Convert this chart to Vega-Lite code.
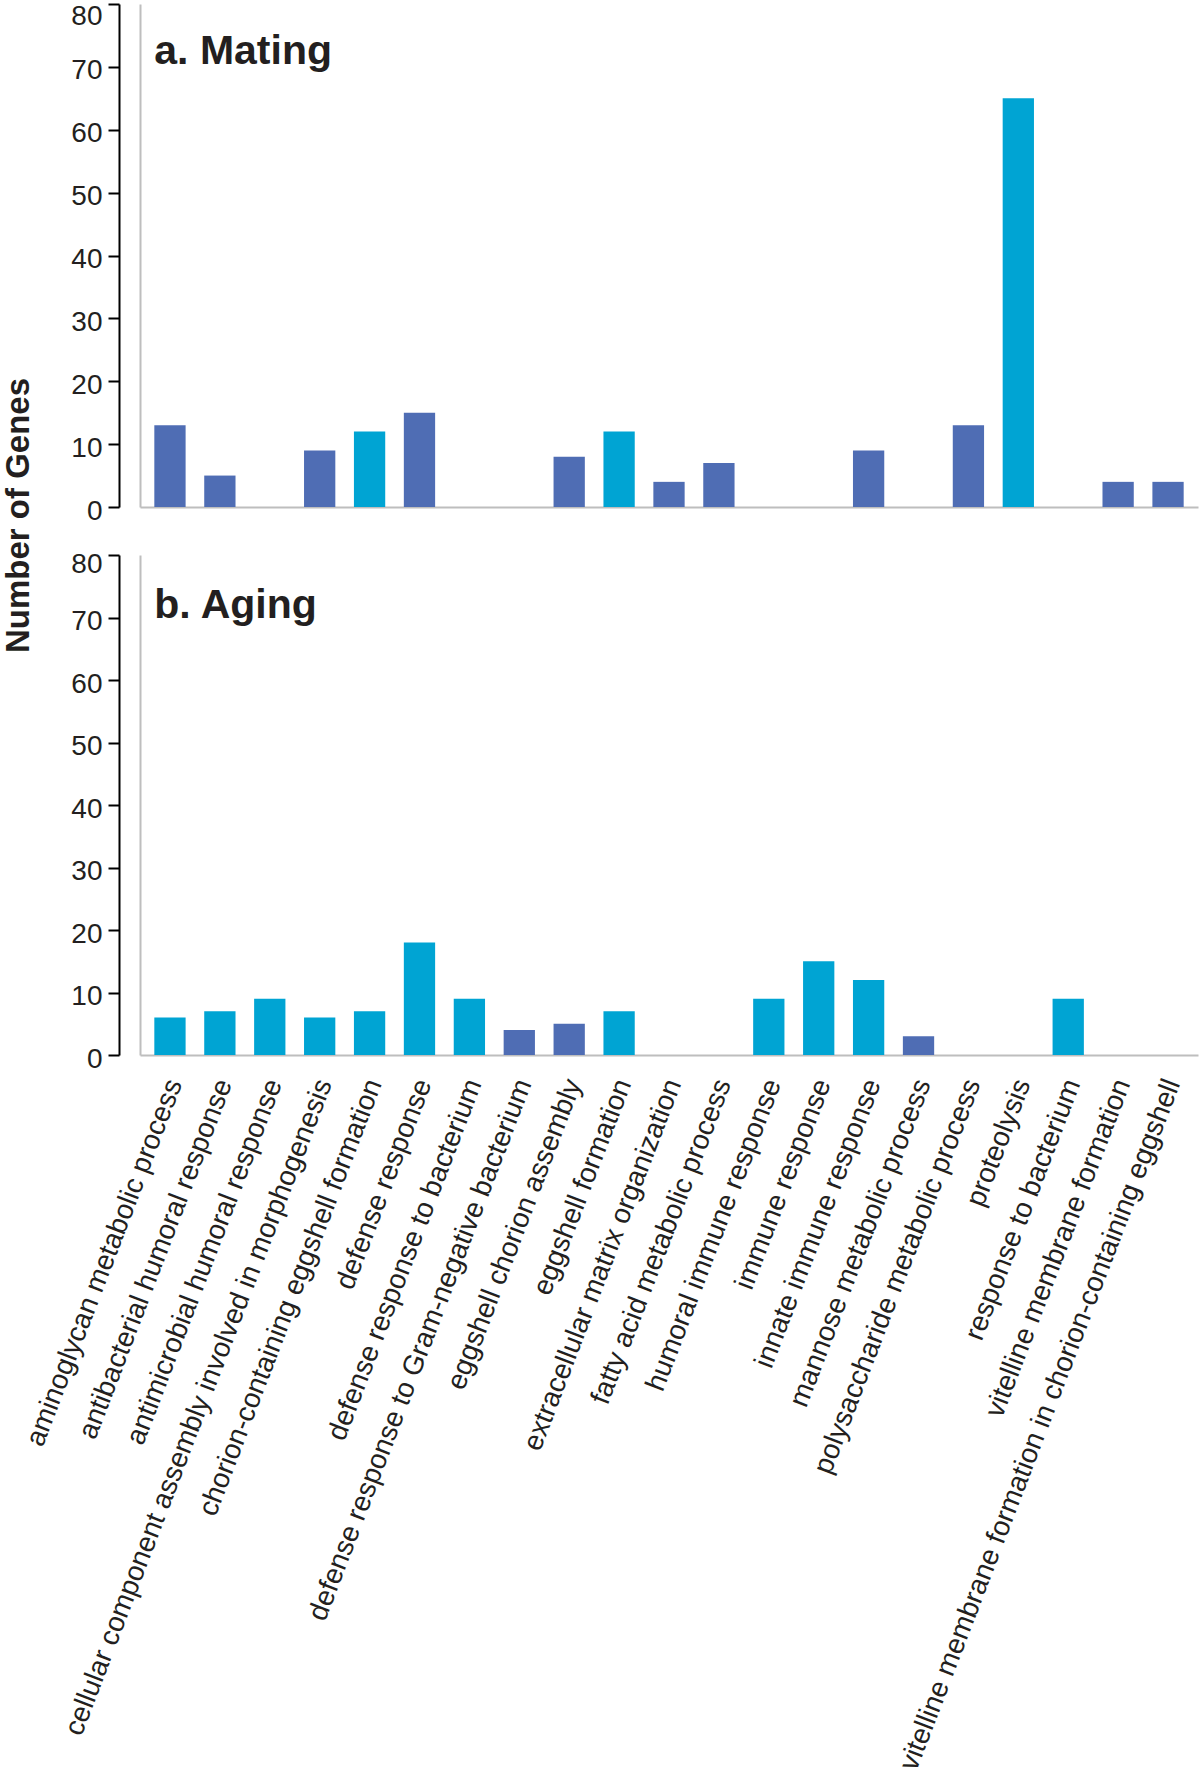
{
  "$schema": "https://vega.github.io/schema/vega-lite/v6.json",
  "background": "white",
  "padding": {"left": 2, "top": 2, "right": 2, "bottom": 0},
  "config": {"view": {"stroke": null}, "font": "Liberation Sans", "axis": {"grid": false}},
  "bounds": "flush",
  "spacing": 48,
  "datasets": {
    "mating": [
      {"category": "aminoglycan metabolic process", "genes": 13, "shade": "dark"},
      {"category": "antibacterial humoral response", "genes": 5, "shade": "dark"},
      {"category": "cellular component assembly involved in morphogenesis", "genes": 9, "shade": "dark"},
      {"category": "chorion-containing eggshell formation", "genes": 12, "shade": "light"},
      {"category": "defense response", "genes": 15, "shade": "dark"},
      {"category": "eggshell chorion assembly", "genes": 8, "shade": "dark"},
      {"category": "eggshell formation", "genes": 12, "shade": "light"},
      {"category": "extracellular matrix organization", "genes": 4, "shade": "dark"},
      {"category": "fatty acid metabolic process", "genes": 7, "shade": "dark"},
      {"category": "innate immune response", "genes": 9, "shade": "dark"},
      {"category": "polysaccharide metabolic process", "genes": 13, "shade": "dark"},
      {"category": "proteolysis", "genes": 65, "shade": "light"},
      {"category": "vitelline membrane formation", "genes": 4, "shade": "dark"},
      {"category": "vitelline membrane formation in chorion-containing eggshell", "genes": 4, "shade": "dark"}
    ],
    "aging": [
      {"category": "aminoglycan metabolic process", "genes": 6, "shade": "light"},
      {"category": "antibacterial humoral response", "genes": 7, "shade": "light"},
      {"category": "antimicrobial humoral response", "genes": 9, "shade": "light"},
      {"category": "cellular component assembly involved in morphogenesis", "genes": 6, "shade": "light"},
      {"category": "chorion-containing eggshell formation", "genes": 7, "shade": "light"},
      {"category": "defense response", "genes": 18, "shade": "light"},
      {"category": "defense response to bacterium", "genes": 9, "shade": "light"},
      {"category": "defense response to Gram-negative bacterium", "genes": 4, "shade": "dark"},
      {"category": "eggshell chorion assembly", "genes": 5, "shade": "dark"},
      {"category": "eggshell formation", "genes": 7, "shade": "light"},
      {"category": "humoral immune response", "genes": 9, "shade": "light"},
      {"category": "immune response", "genes": 15, "shade": "light"},
      {"category": "innate immune response", "genes": 12, "shade": "light"},
      {"category": "mannose metabolic process", "genes": 3, "shade": "dark"},
      {"category": "response to bacterium", "genes": 9, "shade": "light"}
    ],
    "titleA": [{"panel": "a. Mating"}],
    "titleB": [{"panel": "b. Aging"}]
  },
  "vconcat": [
    {
      "width": 1058,
      "height": 503,
      "layer": [
        {
          "data": {"name": "mating"},
          "mark": {"type": "bar"},
          "encoding": {
            "x": {
              "field": "category", "type": "nominal", "sort": null,
              "scale": {"domain": ["aminoglycan metabolic process", "antibacterial humoral response", "antimicrobial humoral response", "cellular component assembly involved in morphogenesis", "chorion-containing eggshell formation", "defense response", "defense response to bacterium", "defense response to Gram-negative bacterium", "eggshell chorion assembly", "eggshell formation", "extracellular matrix organization", "fatty acid metabolic process", "humoral immune response", "immune response", "innate immune response", "mannose metabolic process", "polysaccharide metabolic process", "proteolysis", "response to bacterium", "vitelline membrane formation", "vitelline membrane formation in chorion-containing eggshell"], "paddingInner": 0.373, "paddingOuter": 0.287},
              "axis": {"title": null, "labels": false, "ticks": false, "domainColor": "#BEBEBE", "domainWidth": 2}
            },
            "y": {
              "field": "genes", "type": "quantitative",
              "scale": {"domain": [0, 80], "nice": false},
              "axis": {"orient": "left", "offset": 21, "values": [0, 10, 20, 30, 40, 50, 60, 70, 80], "domainColor": "#000000", "domainWidth": 2, "tickColor": "#000000", "tickWidth": 2, "tickSize": 11, "labelPadding": 6, "labelFontSize": 28, "labelFont": "Liberation Sans", "labelColor": "#231F20",
                "labelOffset": {"condition": {"test": "datum.value === 80", "value": 12}, "value": 4},
                "title": "Number of Genes", "titleFontSize": 33, "titleFontWeight": "bold", "titleFont": "Liberation Sans", "titleColor": "#231F20", "titleX": -91, "titleY": 511, "titleBaseline": "alphabetic", "titleAngle": -90, "titleAlign": "center"}
            },
            "color": {"field": "shade", "type": "nominal", "scale": {"domain": ["dark", "light"], "range": ["#4F6DB4", "#00A4D3"]}, "legend": null}
          }
        },
        {
          "data": {"name": "titleA"},
          "mark": {"type": "text", "align": "left", "baseline": "alphabetic", "fontSize": 41, "fontWeight": "bold", "font": "Liberation Sans", "color": "#231F20"},
          "encoding": {
            "text": {"field": "panel"},
            "x": {"datum": "aminoglycan metabolic process", "type": "nominal", "bandPosition": 0},
            "y": {"datum": 70.5, "type": "quantitative", "axis": {"orient": "left", "offset": 0, "labels": false, "ticks": false, "title": null, "domainColor": "#BEBEBE", "domainWidth": 2}}
          }
        }
      ],
      "resolve": {"axis": {"y": "independent"}}
    },
    {
      "width": 1058,
      "height": 500,
      "layer": [
        {
          "data": {"name": "aging"},
          "mark": {"type": "bar"},
          "encoding": {
            "x": {
              "field": "category", "type": "nominal", "sort": null,
              "scale": {"domain": ["aminoglycan metabolic process", "antibacterial humoral response", "antimicrobial humoral response", "cellular component assembly involved in morphogenesis", "chorion-containing eggshell formation", "defense response", "defense response to bacterium", "defense response to Gram-negative bacterium", "eggshell chorion assembly", "eggshell formation", "extracellular matrix organization", "fatty acid metabolic process", "humoral immune response", "immune response", "innate immune response", "mannose metabolic process", "polysaccharide metabolic process", "proteolysis", "response to bacterium", "vitelline membrane formation", "vitelline membrane formation in chorion-containing eggshell"], "paddingInner": 0.373, "paddingOuter": 0.287},
              "axis": {"title": null, "ticks": false, "domainColor": "#BEBEBE", "domainWidth": 2, "labelAngle": -69, "labelFontSize": 28, "labelFont": "Liberation Sans", "labelColor": "#231F20", "labelPadding": 25, "labelOffset": 5, "labelLimit": 1000, "labelOverlap": false}
            },
            "y": {
              "field": "genes", "type": "quantitative",
              "scale": {"domain": [0, 80], "nice": false},
              "axis": {"orient": "left", "offset": 21, "values": [0, 10, 20, 30, 40, 50, 60, 70, 80], "domainColor": "#000000", "domainWidth": 2, "tickColor": "#000000", "tickWidth": 2, "tickSize": 11, "labelPadding": 6, "labelFontSize": 28, "labelFont": "Liberation Sans", "labelColor": "#231F20",
                "labelOffset": {"condition": {"test": "datum.value === 80", "value": 9}, "value": 4}, "title": null}
            },
            "color": {"field": "shade", "type": "nominal", "scale": {"domain": ["dark", "light"], "range": ["#4F6DB4", "#00A4D3"]}, "legend": null}
          }
        },
        {
          "data": {"name": "titleB"},
          "mark": {"type": "text", "align": "left", "baseline": "alphabetic", "fontSize": 41, "fontWeight": "bold", "font": "Liberation Sans", "color": "#231F20"},
          "encoding": {
            "text": {"field": "panel"},
            "x": {"datum": "aminoglycan metabolic process", "type": "nominal", "bandPosition": 0},
            "y": {"datum": 70, "type": "quantitative", "axis": {"orient": "left", "offset": 0, "labels": false, "ticks": false, "title": null, "domainColor": "#BEBEBE", "domainWidth": 2}}
          }
        }
      ],
      "resolve": {"axis": {"y": "independent"}}
    }
  ]
}
